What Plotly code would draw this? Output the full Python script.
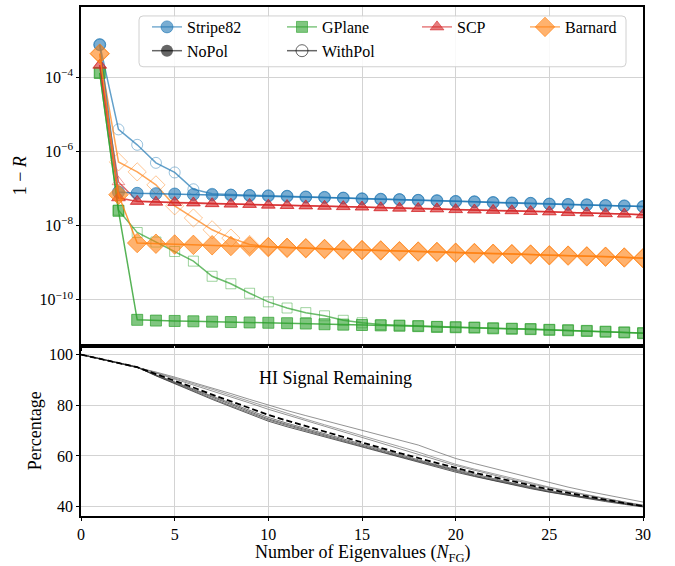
import plotly.graph_objects as go

# ---------------- data ----------------
n_fg = list(range(1, 31))

stripe82_nopol = [7.5e-4, 8.0e-8, 7.41e-8, 7.24e-8, 7.08e-8, 6.92e-8, 6.76e-8, 6.61e-8, 6.46e-8, 6.31e-8,
                  6.17e-8, 5.89e-8, 5.75e-8, 5.50e-8, 5.25e-8, 5.13e-8, 5.01e-8, 4.79e-8, 4.68e-8, 4.47e-8,
                  4.37e-8, 4.17e-8, 4.07e-8, 3.98e-8, 3.80e-8, 3.72e-8, 3.63e-8, 3.47e-8, 3.39e-8, 3.24e-8]
stripe82_withpol = [7.5e-4, 3.9e-6, 1.5e-6, 4.9e-7, 2.7e-7, 9.5e-8, 7.2e-8, 6.8e-8, 6.6e-8, 6.4e-8,
                    6.2e-8, 5.95e-8, 5.8e-8, 5.55e-8, 5.3e-8, 5.15e-8, 5.05e-8, 4.85e-8, 4.7e-8, 4.5e-8,
                    4.4e-8, 4.2e-8, 4.1e-8, 4.0e-8, 3.85e-8, 3.75e-8, 3.65e-8, 3.5e-8, 3.4e-8, 3.27e-8]

gplane_nopol = [1.3e-4, 2.5e-8, 2.88e-11, 2.75e-11, 2.69e-11, 2.63e-11, 2.57e-11, 2.51e-11, 2.45e-11, 2.40e-11,
                2.34e-11, 2.29e-11, 2.19e-11, 2.14e-11, 2.09e-11, 2.04e-11, 2.00e-11, 1.95e-11, 1.86e-11, 1.82e-11,
                1.78e-11, 1.70e-11, 1.66e-11, 1.62e-11, 1.55e-11, 1.51e-11, 1.45e-11, 1.38e-11, 1.32e-11, 1.26e-11]
gplane_withpol = [1.3e-4, 2.6e-8, 6.5e-9, 3.6e-9, 2.0e-9, 1.1e-9, 4.3e-10, 2.7e-10, 1.5e-10, 8.8e-11,
                  6.0e-11, 4.5e-11, 3.7e-11, 2.8e-11, 2.4e-11, 2.15e-11, 2.05e-11, 1.98e-11, 1.9e-11, 1.84e-11,
                  1.8e-11, 1.72e-11, 1.68e-11, 1.63e-11, 1.56e-11, 1.52e-11, 1.46e-11, 1.39e-11, 1.33e-11, 1.27e-11]

scp_nopol = [2.1e-4, 5.62e-8, 4.47e-8, 4.27e-8, 4.17e-8, 4.07e-8, 3.89e-8, 3.80e-8, 3.72e-8, 3.55e-8,
             3.47e-8, 3.39e-8, 3.31e-8, 3.24e-8, 3.16e-8, 3.02e-8, 2.95e-8, 2.88e-8, 2.82e-8, 2.69e-8,
             2.63e-8, 2.57e-8, 2.51e-8, 2.40e-8, 2.34e-8, 2.24e-8, 2.19e-8, 2.09e-8, 2.04e-8, 1.95e-8]
scp_withpol = [2.1e-4, 1.5e-7, 4.6e-8, 4.3e-8, 4.2e-8, 4.1e-8, 3.9e-8, 3.8e-8, 3.7e-8, 3.56e-8,
               3.48e-8, 3.4e-8, 3.32e-8, 3.25e-8, 3.17e-8, 3.03e-8, 2.96e-8, 2.89e-8, 2.83e-8, 2.7e-8,
               2.64e-8, 2.58e-8, 2.52e-8, 2.41e-8, 2.35e-8, 2.25e-8, 2.2e-8, 2.1e-8, 2.05e-8, 1.96e-8]

barnard_nopol = [4.3e-4, 6.8e-8, 3.39e-9, 3.24e-9, 3.09e-9, 3.02e-9, 2.95e-9, 2.82e-9, 2.75e-9, 2.63e-9,
                 2.51e-9, 2.45e-9, 2.34e-9, 2.24e-9, 2.19e-9, 2.14e-9, 2.04e-9, 2.00e-9, 1.95e-9, 1.86e-9,
                 1.82e-9, 1.74e-9, 1.70e-9, 1.66e-9, 1.58e-9, 1.55e-9, 1.48e-9, 1.45e-9, 1.38e-9, 1.32e-9]
barnard_withpol = [4.3e-4, 5.2e-7, 2.8e-7, 1.25e-7, 3.4e-8, 1.6e-8, 7.7e-9, 4.6e-9, 3.1e-9, 2.7e-9,
                   2.55e-9, 2.47e-9, 2.36e-9, 2.26e-9, 2.2e-9, 2.15e-9, 2.05e-9, 2.01e-9, 1.96e-9, 1.87e-9,
                   1.83e-9, 1.75e-9, 1.71e-9, 1.67e-9, 1.59e-9, 1.56e-9, 1.49e-9, 1.46e-9, 1.39e-9, 1.33e-9]

fields = ["Stripe82", "GPlane", "SCP", "Barnard"]

n_sig = list(range(0, 31))
hi_line_a = [100, 98.3, 96.7, 95.0, 93.1, 91.1, 89.0, 86.8, 84.6, 82.3, 80.0, 77.9, 75.9, 74.0, 72.1, 70.3,
             68.3, 66.3, 64.3, 61.6, 59.0, 57.0, 55.1, 53.4, 51.3, 49.3, 47.7, 46.1, 44.6, 43.2, 41.8]
hi_line_b = [100, 98.3, 96.7, 95.0, 92.9, 90.8, 88.6, 86.3, 83.9, 81.5, 79.0, 76.7, 74.5, 72.3, 70.2, 68.1,
             65.9, 63.7, 61.5, 59.0, 56.7, 54.8, 53.0, 51.2, 49.4, 47.7, 46.2, 44.7, 43.2, 41.8, 40.6]
hi_line_c = [100, 98.3, 96.7, 95.0, 92.7, 90.4, 88.1, 85.7, 83.3, 80.9, 78.4, 76.1, 73.9, 71.7, 69.5, 67.3,
             65.0, 62.8, 60.6, 58.4, 56.2, 54.3, 52.5, 50.7, 49.0, 47.3, 45.9, 44.5, 43.1, 41.8, 40.5]
hi_line_d = [100, 98.3, 96.7, 95.0, 92.0, 89.2, 86.3, 83.5, 80.7, 77.9, 75.2, 72.9, 70.8, 68.7, 66.6, 64.6,
             62.5, 60.5, 58.5, 56.5, 54.6, 52.8, 51.1, 49.4, 47.8, 46.2, 44.9, 43.6, 42.4, 41.3, 40.2]
hi_line_e = [100, 98.3, 96.7, 95.0, 91.8, 88.9, 86.0, 83.1, 80.2, 77.4, 74.6, 72.4, 70.3, 68.2, 66.2, 64.2,
             62.1, 60.1, 58.1, 56.1, 54.2, 52.4, 50.7, 49.1, 47.5, 46.0, 44.7, 43.5, 42.3, 41.2, 40.1]
hi_line_f = [100, 98.3, 96.7, 95.0, 91.7, 88.6, 85.6, 82.7, 79.8, 77.0, 74.2, 72.0, 69.9, 67.9, 65.9, 63.9,
             61.8, 59.8, 57.8, 55.8, 53.9, 52.1, 50.4, 48.8, 47.3, 45.8, 44.6, 43.4, 42.2, 41.1, 40.0]
hi_line_g = [100, 98.3, 96.7, 95.0, 91.6, 88.4, 85.3, 82.3, 79.4, 76.5, 73.7, 71.5, 69.5, 67.5, 65.5, 63.6,
             61.5, 59.5, 57.5, 55.5, 53.6, 51.9, 50.2, 48.6, 47.1, 45.7, 44.4, 43.2, 42.0, 40.9, 39.9]
hi_mean = [100, 98.3, 96.7, 95.0, 92.3, 89.8, 87.0, 84.2, 81.5, 78.8, 76.2, 73.9, 71.7, 69.5, 67.4, 65.3,
           63.2, 61.1, 59.1, 57.1, 55.2, 53.4, 51.7, 50.0, 48.4, 46.8, 45.4, 44.0, 42.6, 41.4, 40.2]

log_tick_vals = [1e-4, 1e-6, 1e-8, 1e-10]
log_tick_text = ["10<sup>\u22124</sup>", "10<sup>\u22126</sup>", "10<sup>\u22128</sup>", "10<sup>\u221210</sup>"]
pct_ticks = [40, 60, 80, 100]
x_ticks = [0, 5, 10, 15, 20, 25, 30]

# ---------------- styling ----------------
FONT = "Liberation Serif, Times New Roman, serif"
colors = {"Stripe82": "#1f77b4", "GPlane": "#2ca02c", "SCP": "#d62728", "Barnard": "#ff7f0e"}
symbols = {"Stripe82": "circle", "GPlane": "square", "SCP": "triangle-up", "Barnard": "diamond"}
msize = {"Stripe82": 12, "GPlane": 11, "SCP": 12, "Barnard": 15}
nopol = {"Stripe82": stripe82_nopol, "GPlane": gplane_nopol, "SCP": scp_nopol, "Barnard": barnard_nopol}
withpol = {"Stripe82": stripe82_withpol, "GPlane": gplane_withpol, "SCP": scp_withpol, "Barnard": barnard_withpol}


def rgba(hexc, a):
    h = hexc.lstrip("#")
    r, g, b = int(h[0:2], 16), int(h[2:4], 16), int(h[4:6], 16)
    return f"rgba({r},{g},{b},{a})"


fig = go.Figure()

for f in fields:
    c = colors[f]
    fig.add_trace(go.Scatter(
        x=n_fg, y=withpol[f], mode="lines+markers", showlegend=False,
        line=dict(color=rgba(c, 0.7), width=1.5),
        marker=dict(symbol=symbols[f] + "-open", size=msize[f] - 1, color=rgba(c, 0.45),
                    line=dict(color=rgba(c, 0.45), width=1)),
        xaxis="x", yaxis="y"))
for f in fields:
    c = colors[f]
    fig.add_trace(go.Scatter(
        x=n_fg, y=nopol[f], mode="lines+markers", showlegend=False,
        line=dict(color=rgba(c, 0.8), width=1.5),
        marker=dict(symbol=symbols[f], size=msize[f], color=rgba(c, 0.6),
                    line=dict(color=rgba(c, 0.7), width=1)),
        xaxis="x", yaxis="y"))

# legend entries
legend_names = {"Stripe82": "legend", "GPlane": "legend2", "SCP": "legend3", "Barnard": "legend4"}
for f in fields:
    c = colors[f]
    fig.add_trace(go.Scatter(
        x=[None], y=[None], mode="lines+markers", name=f, legend=legend_names[f],
        line=dict(color=rgba(c, 0.6), width=1.5),
        marker=dict(symbol=symbols[f], size=msize[f], color=rgba(c, 0.6),
                    line=dict(color=rgba(c, 0.6), width=1)),
        xaxis="x", yaxis="y"))
fig.add_trace(go.Scatter(
    x=[None], y=[None], mode="lines+markers", name="NoPol", legend="legend",
    line=dict(color="rgba(0,0,0,0.6)", width=1.5),
    marker=dict(symbol="circle", size=12, color="rgba(0,0,0,0.6)", line=dict(width=0)),
    xaxis="x", yaxis="y"))
fig.add_trace(go.Scatter(
    x=[None], y=[None], mode="lines+markers", name="WithPol", legend="legend2",
    line=dict(color="rgba(0,0,0,0.6)", width=1.5),
    marker=dict(symbol="circle-open", size=12, color="rgba(0,0,0,0.6)", line=dict(width=1)),
    xaxis="x", yaxis="y"))

# bottom panel
for yv, col in [(hi_line_a, "#777777"), (hi_line_b, "#888888"), (hi_line_c, "#777777"),
                (hi_line_d, "#555555"), (hi_line_e, "#444444"), (hi_line_f, "#555555"), (hi_line_g, "#333333")]:
    fig.add_trace(go.Scatter(x=n_sig, y=yv, mode="lines", showlegend=False,
                             line=dict(color=col, width=0.8), xaxis="x2", yaxis="y2"))
fig.add_trace(go.Scatter(x=n_sig, y=hi_mean, mode="lines", showlegend=False,
                         line=dict(color="black", width=1.8, dash="6px,3px"), xaxis="x2", yaxis="y2"))

# ---------------- layout ----------------
L, R, T, B = 81, 32, 5, 50
W, H = 675, 566
pw, ph = W - L - R, H - T - B


def px_x(p):
    return (p - L) / pw


def px_y(p):
    return (H - B - p) / ph


split = px_y(345.5)
axis_common = dict(showline=True, linecolor="black", linewidth=1.6, mirror=True,
                   ticks="outside", ticklen=3, tickwidth=1, tickcolor="black",
                   showgrid=True, gridcolor="#d3d3d3", gridwidth=0.8, zeroline=False,
                   tickfont=dict(family=FONT, size=16, color="black"))

fig.update_layout(
    width=W, height=H, margin=dict(l=L, r=R, t=T, b=B),
    paper_bgcolor="white", plot_bgcolor="white",
    font=dict(family=FONT, size=16, color="black"),
    xaxis=dict(domain=[0, 1], range=[0, 30], anchor="y", tickvals=x_ticks, showticklabels=False,
               **axis_common),
    yaxis=dict(domain=[split, 1], type="log", range=[-11.25, -2.11], anchor="x",
               tickvals=log_tick_vals, ticktext=log_tick_text, **axis_common),
    xaxis2=dict(domain=[0, 1], range=[0, 30], anchor="y2", tickvals=x_ticks, **axis_common),
    yaxis2=dict(domain=[0, split], range=[36.3, 103.3], anchor="x2", tickvals=pct_ticks, **axis_common),
    showlegend=True,
)

leg_common = dict(orientation="v", xanchor="left", yanchor="top", bgcolor="rgba(0,0,0,0)",
                  borderwidth=0, font=dict(family=FONT, size=16, color="black"),
                  itemsizing="trace", tracegroupgap=0)
legend_y = px_y(8)
fig.update_layout(
    legend=dict(x=px_x(147), y=legend_y, **leg_common),
    legend2=dict(x=px_x(282), y=legend_y, **leg_common),
    legend3=dict(x=px_x(417), y=legend_y, **leg_common),
    legend4=dict(x=px_x(525), y=legend_y, **leg_common),
)

# legend frame
x0, x1, y0, y1 = 139, 626, 14, 65
r = 4
path = (f"M {px_x(x0 + r)},{px_y(y0)} L {px_x(x1 - r)},{px_y(y0)} "
        f"Q {px_x(x1)},{px_y(y0)} {px_x(x1)},{px_y(y0 + r)} "
        f"L {px_x(x1)},{px_y(y1 - r)} Q {px_x(x1)},{px_y(y1)} {px_x(x1 - r)},{px_y(y1)} "
        f"L {px_x(x0 + r)},{px_y(y1)} Q {px_x(x0)},{px_y(y1)} {px_x(x0)},{px_y(y1 - r)} "
        f"L {px_x(x0)},{px_y(y0 + r)} Q {px_x(x0)},{px_y(y0)} {px_x(x0 + r)},{px_y(y0)} Z")
fig.add_shape(type="path", path=path, xref="paper", yref="paper", layer="above",
              line=dict(color="#d0d0d0", width=1), fillcolor="rgba(255,255,255,0.85)")

# texts
fig.add_annotation(x=13.6, y=90.6, xref="x2", yref="y2", text="HI Signal Remaining", showarrow=False,
                   xanchor="center", yanchor="middle",
                   font=dict(family=FONT, size=18, color="black"))
fig.add_annotation(x=px_x(20), y=px_y(175), xref="paper", yref="paper", text="1 \u2212 <i>R</i>",
                   textangle=-90, showarrow=False, xanchor="center", yanchor="middle",
                   font=dict(family=FONT, size=18, color="black"))
fig.add_annotation(x=px_x(35), y=px_y(431), xref="paper", yref="paper", text="Percentage",
                   textangle=-90, showarrow=False, xanchor="center", yanchor="middle",
                   font=dict(family=FONT, size=18, color="black"))
fig.add_annotation(x=px_x(363), y=px_y(554), xref="paper", yref="paper",
                   text="Number of Eigenvalues (<i>N</i><sub>FG</sub>)", showarrow=False,
                   xanchor="center", yanchor="middle",
                   font=dict(family=FONT, size=18, color="black"))

fig.write_html("out.html")
